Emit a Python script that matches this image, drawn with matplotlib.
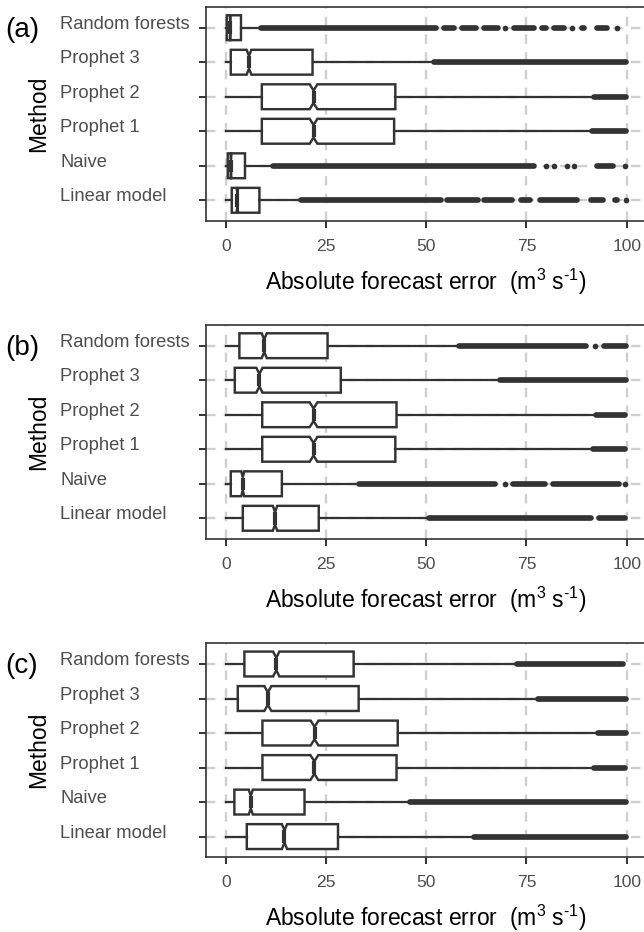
import numpy as np
import matplotlib
matplotlib.use('Agg')
import matplotlib.pyplot as plt
import matplotlib.transforms as mtransforms

plt.rcParams['font.family'] = ['Liberation Sans', 'DejaVu Sans']
plt.rcParams['mathtext.fontset'] = 'custom'
plt.rcParams['mathtext.rm'] = 'Liberation Sans'
plt.rcParams['mathtext.it'] = 'Liberation Sans:italic'
plt.rcParams['mathtext.bf'] = 'Liberation Sans:bold'

# ---------------- data ----------------
methods = ['Linear model', 'Naive', 'Prophet 1', 'Prophet 2', 'Prophet 3', 'Random forests']
panel_labels = ['(a)', '(b)', '(c)']
x_ticks = [0, 25, 50, 75, 100]
n_obs = 3000  # observations per box (sets notch size)

# order of values follows `methods`
whislo_a = [0, 0, 0, 0, 0, 0]
q1_a = [1.5, 0.5, 9.0, 9.0, 1.25, 0.25]
med_a = [2.9, 1.3, 21.9, 21.9, 5.8, 1.1]
q3_a = [8.4, 4.8, 42.0, 42.3, 21.65, 3.8]
whishi_a = [18.2, 11.1, 90.7, 91.3, 51.3, 8.2]
fliers_a = [
    [[18.8, 53.6], [55.3, 62.8], [64.4, 71.5], [73.6, 75.9], [78.3, 87.6], [91.0, 94.0], [97.1, 97.7], [99.85, 99.85]],
    [[11.7, 76.9], [79.9, 79.9], [81.9, 81.9], [85.0, 85.0], [86.8, 86.8], [92.7, 96.5], [99.6, 99.6]],
    [[91.3, 99.9]],
    [[91.9, 99.8]],
    [[51.9, 99.8]],
    [[8.8, 52.4], [54.4, 57.0], [59.0, 62.4], [64.4, 67.8], [69.6, 69.6], [71.9, 76.9], [79.0, 79.8],
     [81.9, 84.4], [86.3, 86.3], [88.8, 89.4], [92.7, 95.2], [97.5, 97.5]],
]

whislo_b = [0, 0, 0, 0, 0, 0]
q1_b = [4.25, 1.25, 9.1, 9.1, 2.25, 3.4]
med_b = [12.3, 4.25, 21.9, 21.9, 8.4, 9.6]
q3_b = [23.2, 14.0, 42.3, 42.6, 28.7, 25.4]
whishi_b = [50.1, 32.6, 91.0, 91.7, 67.8, 57.6]
fliers_b = [
    [[50.7, 91.1], [93.1, 99.7]],
    [[33.2, 67.1], [69.7, 69.7], [71.6, 79.6], [81.6, 98.1], [99.7, 99.7]],
    [[91.6, 99.7]],
    [[92.3, 99.6]],
    [[68.4, 99.8]],
    [[58.2, 89.8], [92.1, 92.1], [94.4, 99.8]],
]

whislo_c = [0, 0, 0, 0, 0, 0]
q1_c = [5.25, 2.15, 9.15, 9.15, 3.0, 4.65]
med_c = [14.65, 6.25, 22.1, 22.15, 10.5, 12.6]
q3_c = [28.0, 19.65, 42.6, 42.9, 33.15, 31.9]
whishi_c = [61.3, 45.25, 91.3, 92.3, 77.2, 72.0]
fliers_c = [
    [[61.9, 99.8]],
    [[45.9, 99.9]],
    [[91.9, 99.7]],
    [[92.9, 99.8]],
    [[77.8, 99.8]],
    [[72.6, 99.2]],
]

panels = [
    (whislo_a, q1_a, med_a, q3_a, whishi_a, fliers_a),
    (whislo_b, q1_b, med_b, q3_b, whishi_b, fliers_b),
    (whislo_c, q1_c, med_c, q3_c, whishi_c, fliers_c),
]

# ---------------- layout ----------------
W, H = 644, 932
fig = plt.figure(figsize=(W / 100, H / 100), dpi=100)
fig.patch.set_facecolor('white')

dark = '#333333'
tick_gray = '#4d4d4d'
grid_col = '#cfcfcf'
panel_tops = [7, 325, 643.3]
panel_h = 214
ax_left, ax_w = 205.7, 441.0

for i, (wlo, q1, med, q3, whi, fl) in enumerate(panels):
    top = panel_tops[i]
    ax = fig.add_axes([ax_left / W, 1 - (top + panel_h) / H, ax_w / W, panel_h / H])
    ax.set_facecolor('white')
    ax.set_axisbelow(True)

    positions = np.arange(1, len(methods) + 1)
    stats = []
    for j in range(len(methods)):
        half = 1.58 * (q3[j] - q1[j]) / np.sqrt(n_obs)
        stats.append(dict(med=med[j], q1=q1[j], q3=q3[j], whislo=wlo[j], whishi=whi[j],
                          cilo=med[j] - half, cihi=med[j] + half, fliers=[]))
    kw = dict(positions=positions, widths=0.72, shownotches=True, showcaps=False,
              showfliers=False, patch_artist=True,
              boxprops=dict(facecolor='white', edgecolor=dark, linewidth=1.75),
              whiskerprops=dict(color=dark, linewidth=1.6),
              medianprops=dict(color=dark, linewidth=3.0, solid_capstyle='butt'),
              manage_ticks=False)
    try:
        ax.bxp(stats, orientation='horizontal', **kw)
    except TypeError:
        ax.bxp(stats, vert=False, **kw)

    for j, runs in enumerate(fl):
        y = positions[j]
        for a, b in runs:
            if b > a:
                ax.plot([a, b], [y, y], color=dark, lw=4.1, solid_capstyle='round', zorder=3)
            else:
                ax.plot([a], [y], 'o', color=dark, ms=4.1, mec='none', zorder=3)

    ax.set_xlim(-5, 105)
    ax.set_ylim(0.4, 6.6)
    ax.set_xticks(x_ticks)
    ax.set_xticklabels([str(t) for t in x_ticks])
    ax.set_yticks(positions)
    ax.set_yticklabels([''] * len(methods))
    ax.grid(True, color=grid_col, linestyle=(0, (4, 3.5)), linewidth=1.7)
    ax.tick_params(axis='both', direction='out', length=5.2, width=1.4, color=dark)
    ax.tick_params(axis='x', labelsize=12.6, labelcolor=tick_gray, pad=7.5)
    for sp in ax.spines.values():
        sp.set_color(dark)
        sp.set_linewidth(1.2)

    trans = mtransforms.blended_transform_factory(fig.transFigure, ax.transData)
    trans = mtransforms.offset_copy(trans, fig=fig, x=0, y=-1, units='dots')
    for j, m in enumerate(methods):
        ax.text(60 / W, positions[j], m, transform=trans, ha='left', va='baseline',
                fontsize=13.2, color=tick_gray, clip_on=False)

    # axis titles
    fig.text(39 / W, 1 - (top + panel_h / 2) / H, 'Method', rotation=90,
             ha='center', va='center', fontsize=16.5, color='black')
    fig.text((ax_left + ax_w / 2) / W, 1 - (top + panel_h + 69) / H,
             'Absolute forecast error  (m$^{\\mathregular{3}}$ s$^{\\mathregular{\u20101}}$)',
             ha='center', va='baseline', fontsize=16.5, color='black')
    fig.text(5 / W, 1 - (top + 23) / H, panel_labels[i], ha='left', va='center',
             fontsize=20, color='black')

fig.savefig('out.png', dpi=100, facecolor='white')
